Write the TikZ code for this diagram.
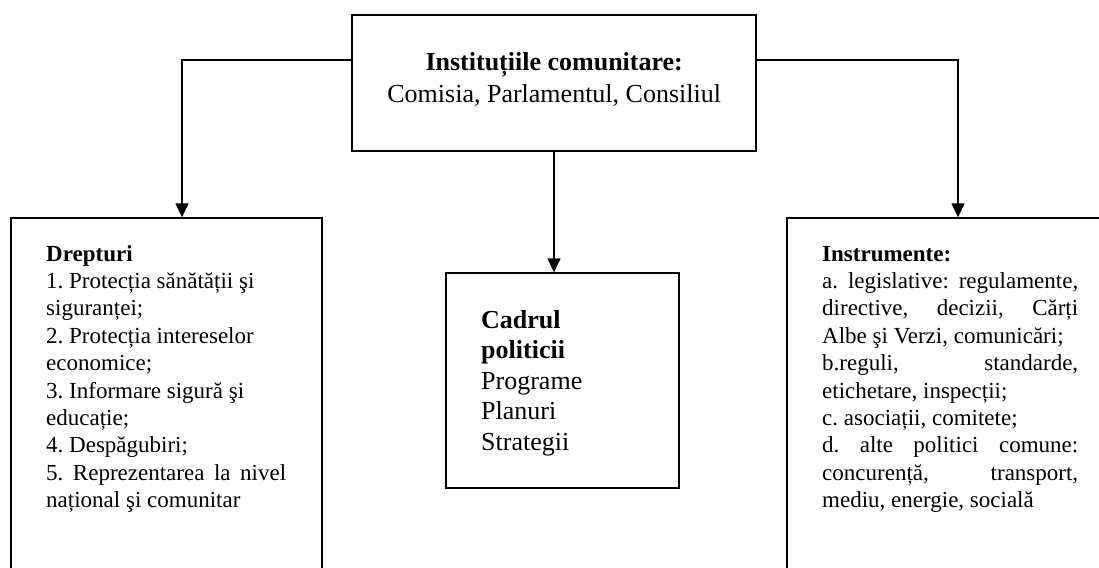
\documentclass[tikz,border=0pt]{standalone}
\usepackage{fontspec}
\setmainfont{Liberation Serif}
\usetikzlibrary{arrows.meta}
\newcommand{\jline}[1]{\makebox[\linewidth][s]{#1}}
\frenchspacing
\begin{document}
\begin{tikzpicture}[x=1pt,y=-1pt,
  box/.style={draw, line width=1.3pt, inner sep=0pt, fill=none},
  txt/.style={anchor=base west, inner sep=0pt},
  arr/.style={line width=1.3pt, -{Triangle[width=13pt,length=14pt]}}]
\useasboundingbox (0,0) rectangle (1099,567);
\clip (0,0) rectangle (1099,567);
% boxes
\node[box, minimum width=404pt, minimum height=136pt] (top) at (554,83) {};
\node[box, minimum width=311pt, minimum height=382pt] (left) at (166.5,409) {};
\node[box, minimum width=233pt, minimum height=215pt] (mid) at (562.5,380.5) {};
\node[box, minimum width=342pt, minimum height=382pt] (right) at (958,409) {};
% texts
\node[txt] (toptxt) at (352,71) {\parbox[t]{404pt}{\fontsize{26}{32}\selectfont\centering
\textbf{Instituțiile comunitare:}\\
Comisia, Parlamentul, Consiliul}};
\node[txt] (lefttxt) at (46,261) {\parbox[t]{240pt}{\fontsize{23}{27.4}\selectfont\raggedright
\textbf{Drepturi}\\
1. Protecția sănătății şi\\
siguranței;\\
2. Protecția intereselor\\
economice;\\
3. Informare sigură şi\\
educație;\\
4. Despăgubiri;\\
\jline{5. Reprezentarea la nivel}\\
național şi comunitar}};
\node[txt] (midtxt) at (481,328) {\parbox[t]{190pt}{\fontsize{26}{30.5}\selectfont\raggedright
\textbf{Cadrul}\\
\textbf{politicii}\\
Programe\\
Planuri\\
Strategii}};
\node[txt] (righttxt) at (822,261) {\parbox[t]{256pt}{\fontsize{23}{27.4}\selectfont\raggedright
\textbf{Instrumente:}\\
\jline{a. legislative: regulamente,}\\
\jline{directive, decizii, Cărți}\\
Albe şi Verzi, comunicări;\\
\jline{b.reguli, standarde,}\\
etichetare, inspecții;\\
c. asociații, comitete;\\
\jline{d. alte politici comune:}\\
\jline{concurență, transport,}\\
mediu, energie, socială}};
% connectors
\draw[arr] ([yshift=23pt]top.west) -| ([xshift=15.5pt]left.north);
\draw[arr] ([yshift=23pt]top.east) -| (right.north);
\draw[arr] (top.south) -- (top.south |- mid.north);
\end{tikzpicture}
\end{document}
